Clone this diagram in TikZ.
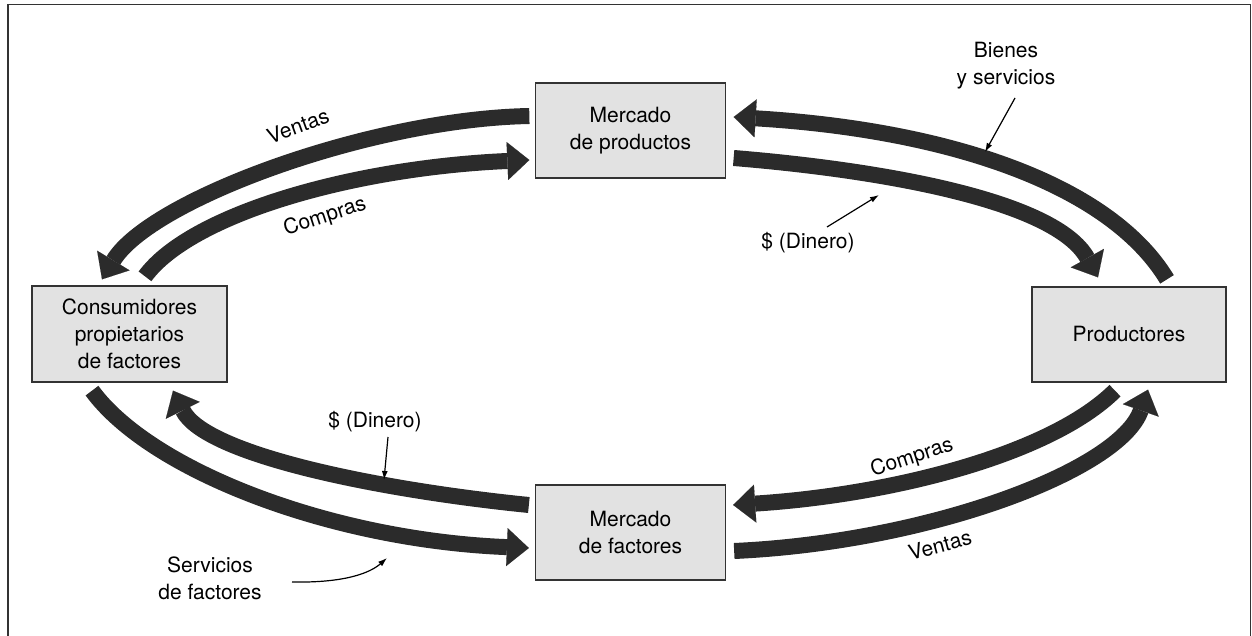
\documentclass[tikz,border=0pt]{standalone}
\usepackage{fontspec}
\setmainfont{TeX Gyre Heros}
\usetikzlibrary{arrows.meta,calc}
\definecolor{flowc}{HTML}{2B2B2B}
\definecolor{boxfill}{HTML}{E2E2E2}
\definecolor{framec}{HTML}{333333}
\begin{document}
\begin{tikzpicture}[x=1pt,y=-1pt,
  box/.style={draw=framec, line width=1.3pt, fill=boxfill, minimum width=190pt,
    minimum height=95pt, align=center, inner sep=0pt,
    font=\fontsize{21}{27}\selectfont},
  flow/.style={line width=16pt, draw=flowc,
    -{Triangle[width=38pt,length=22pt,line width=0.1pt]}},
  lbl/.style={font=\fontsize{21}{27}\selectfont, align=center, inner sep=0pt},
  ptr/.style={line width=1.2pt, draw=black, -{Latex[length=9pt,width=6pt]}}]

\useasboundingbox (0,0) rectangle (1252,636);
\draw[framec, line width=1.5pt] (8,636) -- (8,4.5) -- (1250.5,4.5) -- (1250.5,636);

% boxes
\node[box] (mp) at (630.5,130.5) {Mercado\\de productos};
\node[box, minimum width=195pt, minimum height=96pt] (cons) at (129.5,334) {Consumidores\\propietarios\\de factores};
\node[box, minimum width=194pt] (prod) at (1129,334.5) {Productores};
\node[box] (mf) at (630.5,532.5) {Mercado\\de factores};

% flows
\draw[flow] ($(mp.west)+(-5.5,-14.5)$) .. controls (370,119) and (150,200) .. ($(cons.north)+(-27.5,-6)$);
\draw[flow] ($(cons.north)+(15.5,-9)$) .. controls (190,215) and (350,168) .. ($(mp.west)+(-5.5,29.5)$);
\draw[flow] ($(prod.north)+(38,-7)$) .. controls (1110,185) and (950,130) .. ($(mp.east)+(7.5,-13.5)$);
\draw[flow] ($(mp.east)+(7.5,27.5)$) .. controls (880,170) and (1055,200) .. ($(prod.north)+(-31,-9)$);
\draw[flow] ($(cons.south)+(-37.5,8)$) .. controls (150,470) and (330,540) .. ($(mf.west)+(-6,15.5)$);
\draw[flow] ($(mf.west)+(-6,-27.5)$) .. controls (380,490) and (205,455) .. ($(cons.south)+(43.5,8)$);
\draw[flow] ($(prod.south)+(-14,8)$) .. controls (1050,455) and (890,495) .. ($(mf.east)+(7,-27.5)$);
\draw[flow] ($(mf.east)+(8,18.5)$) .. controls (930,542) and (1120,470) .. ($(prod.south)+(19,7)$);

% labels
\node[lbl, rotate=20] (v1) at (298,126) {Ventas};
\node[lbl, rotate=18] (c1) at (325,217) {Compras};
\node[lbl] (bys) at (1006,66) {Bienes\\y servicios};
\node[lbl] (d1) at (808,243) {\$ (Dinero)};
\node[lbl] (d2) at (375,422) {\$ (Dinero)};
\node[lbl] (sf) at (210,578) {Servicios\\de factores};
\node[lbl, rotate=18] (c2) at (912,458) {Compras};
\node[lbl, rotate=15] (v2) at (940,545) {Ventas};

% pointers
\coordinate (p1a) at (1015,98);  \coordinate (p1b) at (985,152);
\coordinate (p2a) at (827,227);  \coordinate (p2b) at (879,195);
\coordinate (p3a) at (388,437);  \coordinate (p3b) at (384,480);
\coordinate (p4a) at (292,582);  \coordinate (p4b) at (387,558);
\draw[ptr] (p1a) -- (p1b);
\draw[ptr] (p2a) -- (p2b);
\draw[ptr] (p3a) -- (p3b);
\draw[ptr] (p4a) .. controls (345,583) and (370,573) .. (p4b);
\end{tikzpicture}
\end{document}
